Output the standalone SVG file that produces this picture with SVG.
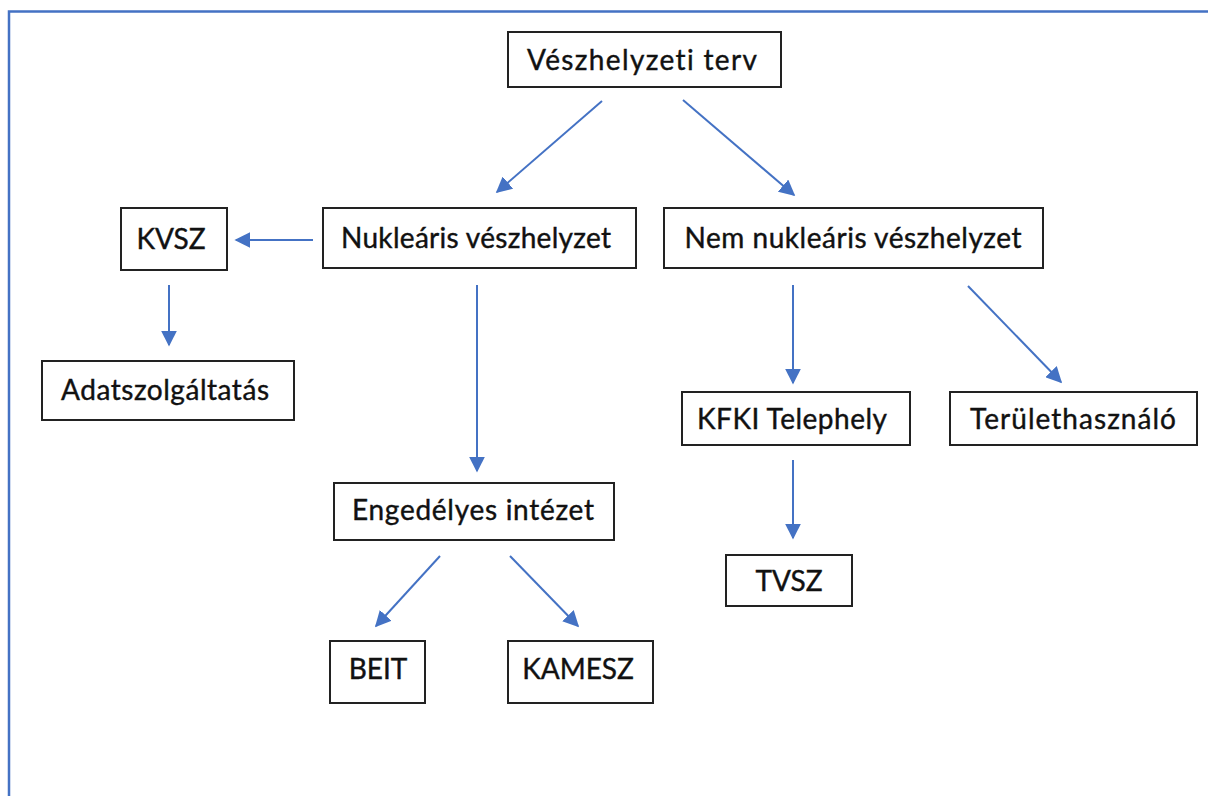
<svg xmlns="http://www.w3.org/2000/svg" width="1208" height="796" viewBox="0 0 1208 796">
  <defs>
    <marker id="ah" viewBox="0 0 10 10" refX="9" refY="5" markerWidth="8" markerHeight="8" markerUnits="strokeWidth" orient="auto">
      <path d="M0,0 L10,5 L0,10 z" fill="#4472C4"/>
    </marker>
  </defs>
  <style>
    .box{fill:#fff;stroke:#222;stroke-width:2}
    .lbl{font-family:Lato,"Liberation Sans",sans-serif;font-size:28px;fill:#111;stroke:#111;stroke-width:0.4;text-anchor:middle;font-variant-ligatures:none}
    .con line{stroke:#4472C4;stroke-width:2;marker-end:url(#ah)}
  </style>
  <rect width="1208" height="796" fill="#fff"/>
  <path d="M9,796 V11.5 H1208" fill="none" stroke="#4472C4" stroke-width="2.5"/>

  <g id="n-terv"><rect class="box" x="508" y="32" width="273" height="55"/><text class="lbl" x="642" y="70" textLength="230">Vészhelyzeti terv</text></g>
  <g id="n-kvsz"><rect class="box" x="121" y="208" width="106" height="62"/><text class="lbl" x="171" y="249">KVSZ</text></g>
  <g id="n-nuk"><rect class="box" x="323" y="208" width="313" height="60"/><text class="lbl" x="476" y="248" textLength="270">Nukleáris vészhelyzet</text></g>
  <g id="n-nem"><rect class="box" x="664" y="208" width="379" height="60"/><text class="lbl" x="853" y="248" textLength="337">Nem nukleáris vészhelyzet</text></g>
  <g id="n-adat"><rect class="box" x="42" y="361" width="252" height="59"/><text class="lbl" x="165" y="400" textLength="208">Adatszolgáltatás</text></g>
  <g id="n-kfki"><rect class="box" x="682" y="392" width="228" height="53"/><text class="lbl" x="792" y="429" textLength="190">KFKI Telephely</text></g>
  <g id="n-terulet"><rect class="box" x="950" y="392" width="247" height="53"/><text class="lbl" x="1073" y="429" textLength="206">Területhasználó</text></g>
  <g id="n-eng"><rect class="box" x="334" y="483" width="280" height="57"/><text class="lbl" x="473" y="520" textLength="242">Engedélyes intézet</text></g>
  <g id="n-tvsz"><rect class="box" x="726" y="555" width="126" height="51"/><text class="lbl" x="789" y="591">TVSZ</text></g>
  <g id="n-beit"><rect class="box" x="330" y="641" width="95" height="62"/><text class="lbl" x="378" y="679">BEIT</text></g>
  <g id="n-kamesz"><rect class="box" x="508" y="641" width="145" height="62"/><text class="lbl" x="578" y="679">KAMESZ</text></g>

  <g class="con" id="connectors">
    <line x1="602" y1="101" x2="497" y2="192"/>
    <line x1="683" y1="100" x2="794" y2="195"/>
    <line x1="313" y1="240" x2="236" y2="240"/>
    <line x1="169" y1="285" x2="169" y2="345"/>
    <line x1="477" y1="285" x2="477" y2="471"/>
    <line x1="793" y1="285" x2="793" y2="383"/>
    <line x1="968" y1="286" x2="1061" y2="382"/>
    <line x1="793" y1="460" x2="793" y2="538"/>
    <line x1="440" y1="556" x2="376" y2="626"/>
    <line x1="510" y1="556" x2="578" y2="626"/>
  </g>
</svg>
